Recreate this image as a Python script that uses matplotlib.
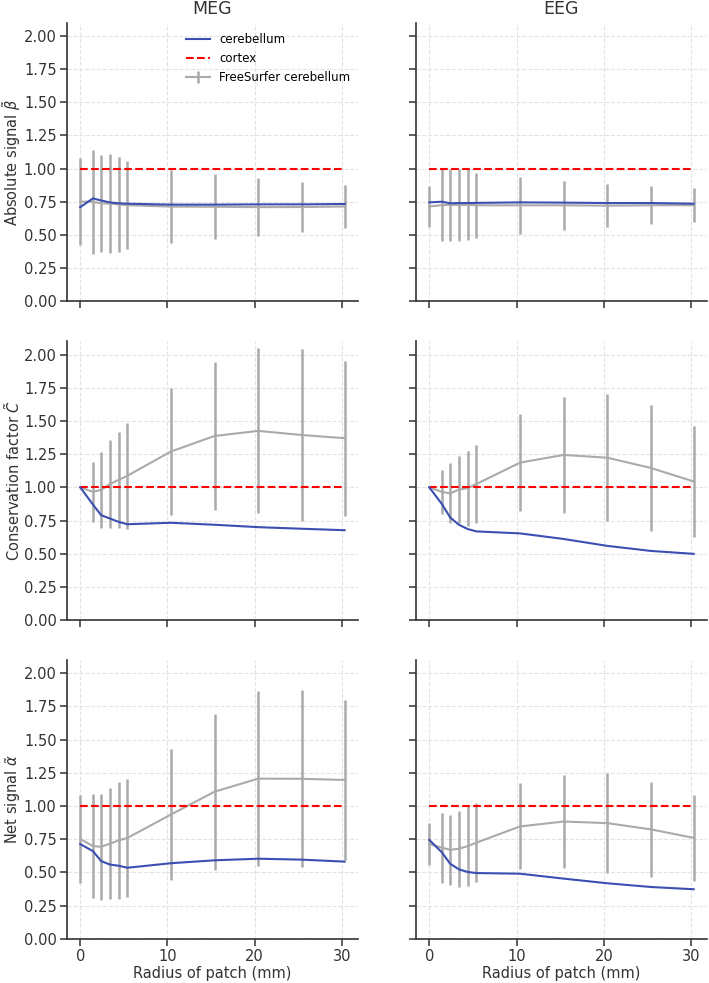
import numpy as np
import matplotlib
matplotlib.use("Agg")
import matplotlib.pyplot as plt

radius = [0, 1.46, 2.4, 3.4, 4.4, 5.4, 10.4, 15.4, 20.4, 25.4, 30.3]

# cerebellum (blue) values per panel
meg_abs_cb = [0.71, 0.776, 0.76, 0.746, 0.739, 0.736, 0.729, 0.729, 0.731, 0.731, 0.734]
eeg_abs_cb = [0.746, 0.751, 0.739, 0.741, 0.741, 0.742, 0.746, 0.744, 0.741, 0.741, 0.736]
meg_cons_cb = [1.0, 0.87, 0.79, 0.765, 0.74, 0.722, 0.733, 0.718, 0.70, 0.688, 0.677]
eeg_cons_cb = [1.0, 0.873, 0.773, 0.718, 0.686, 0.668, 0.653, 0.611, 0.559, 0.521, 0.499]
meg_net_cb = [0.713, 0.66, 0.585, 0.559, 0.55, 0.535, 0.569, 0.591, 0.603, 0.596, 0.581]
eeg_net_cb = [0.745, 0.65, 0.565, 0.523, 0.503, 0.495, 0.49, 0.453, 0.418, 0.39, 0.373]

# FreeSurfer cerebellum (gray) mean and spread
meg_abs_fs = [0.752, 0.75, 0.739, 0.737, 0.73, 0.725, 0.714, 0.713, 0.71, 0.711, 0.715]
meg_abs_sd = [0.33, 0.39, 0.366, 0.375, 0.357, 0.332, 0.274, 0.245, 0.218, 0.189, 0.163]
eeg_abs_fs = [0.715, 0.726, 0.728, 0.726, 0.728, 0.724, 0.724, 0.724, 0.721, 0.724, 0.725]
eeg_abs_sd = [0.155, 0.274, 0.273, 0.274, 0.267, 0.246, 0.214, 0.184, 0.162, 0.142, 0.126]
meg_cons_fs = [1.0, 0.966, 0.981, 1.025, 1.056, 1.087, 1.27, 1.387, 1.425, 1.394, 1.37]
meg_cons_sd = [0.0, 0.224, 0.284, 0.328, 0.364, 0.40, 0.478, 0.555, 0.622, 0.649, 0.585]
eeg_cons_fs = [1.0, 0.966, 0.954, 0.983, 0.994, 1.025, 1.186, 1.244, 1.223, 1.146, 1.044]
eeg_cons_sd = [0.0, 0.166, 0.226, 0.252, 0.283, 0.297, 0.368, 0.439, 0.477, 0.472, 0.419]
meg_net_fs = [0.752, 0.698, 0.693, 0.716, 0.741, 0.759, 0.936, 1.108, 1.206, 1.205, 1.196]
meg_net_sd = [0.33, 0.389, 0.399, 0.419, 0.441, 0.445, 0.49, 0.587, 0.66, 0.666, 0.602]
eeg_net_fs = [0.714, 0.686, 0.67, 0.678, 0.698, 0.724, 0.846, 0.883, 0.871, 0.824, 0.76]
eeg_net_sd = [0.156, 0.264, 0.262, 0.285, 0.303, 0.30, 0.324, 0.353, 0.374, 0.359, 0.323]

cortex = [1.0] * len(radius)

ylabels = [r"Absolute signal $\tilde{\beta}$",
           r"Conservation factor $\tilde{C}$",
           r"Net signal $\tilde{\alpha}$"]
titles = ["MEG", "EEG"]

cb = [[meg_abs_cb, eeg_abs_cb], [meg_cons_cb, eeg_cons_cb], [meg_net_cb, eeg_net_cb]]
fs = [[meg_abs_fs, eeg_abs_fs], [meg_cons_fs, eeg_cons_fs], [meg_net_fs, eeg_net_fs]]
sd = [[meg_abs_sd, eeg_abs_sd], [meg_cons_sd, eeg_cons_sd], [meg_net_sd, eeg_net_sd]]

blue = '#3b4fb2'
gray = '#aaaaaa'
dark = '#333333'

plt.rcParams['font.family'] = 'DejaVu Sans'
fig, axes = plt.subplots(3, 2, figsize=(7.09, 9.83), dpi=100, sharex=True, sharey=True)
fig.subplots_adjust(left=0.0945, right=0.997, top=0.977, bottom=0.045, wspace=0.2, hspace=0.143)

for r in range(3):
    for c in range(2):
        ax = axes[r, c]
        ax.plot(radius, cb[r][c], color=blue, lw=1.5, label='cerebellum', zorder=4)
        ax.plot(radius, cortex, color='red', lw=1.5, ls='--', label='cortex', zorder=3)
        ax.errorbar(radius, fs[r][c], yerr=sd[r][c], color=gray, lw=1.5,
                    elinewidth=1.8, capsize=0, label='FreeSurfer cerebellum', zorder=2)
        ax.set_ylim(0, 2.1)
        ax.set_yticks(np.arange(0, 2.01, 0.25))
        ax.set_xticks([0, 10, 20, 30])
        ax.grid(True, ls='--', color='#e3e3e3', lw=0.8)
        ax.set_axisbelow(True)
        for s in ['top', 'right']:
            ax.spines[s].set_visible(False)
        for s in ['left', 'bottom']:
            ax.spines[s].set_color(dark)
            ax.spines[s].set_linewidth(1.2)
        ax.tick_params(colors=dark, labelsize=10.5, length=5, width=1.1, pad=2.5)
        if r == 0:
            ax.set_title(titles[c], fontsize=12.5, color=dark, pad=6)
        if c == 0:
            ax.set_ylabel(ylabels[r], fontsize=10.5, color=dark, labelpad=0.5)
        if r == 2:
            ax.set_xlabel("Radius of patch (mm)", fontsize=10.5, color=dark, labelpad=1)

axes[0, 0].legend(loc='upper right', bbox_to_anchor=(1.01, 1.0), frameon=False, fontsize=8.5)

fig.savefig('out.png', dpi=100)
